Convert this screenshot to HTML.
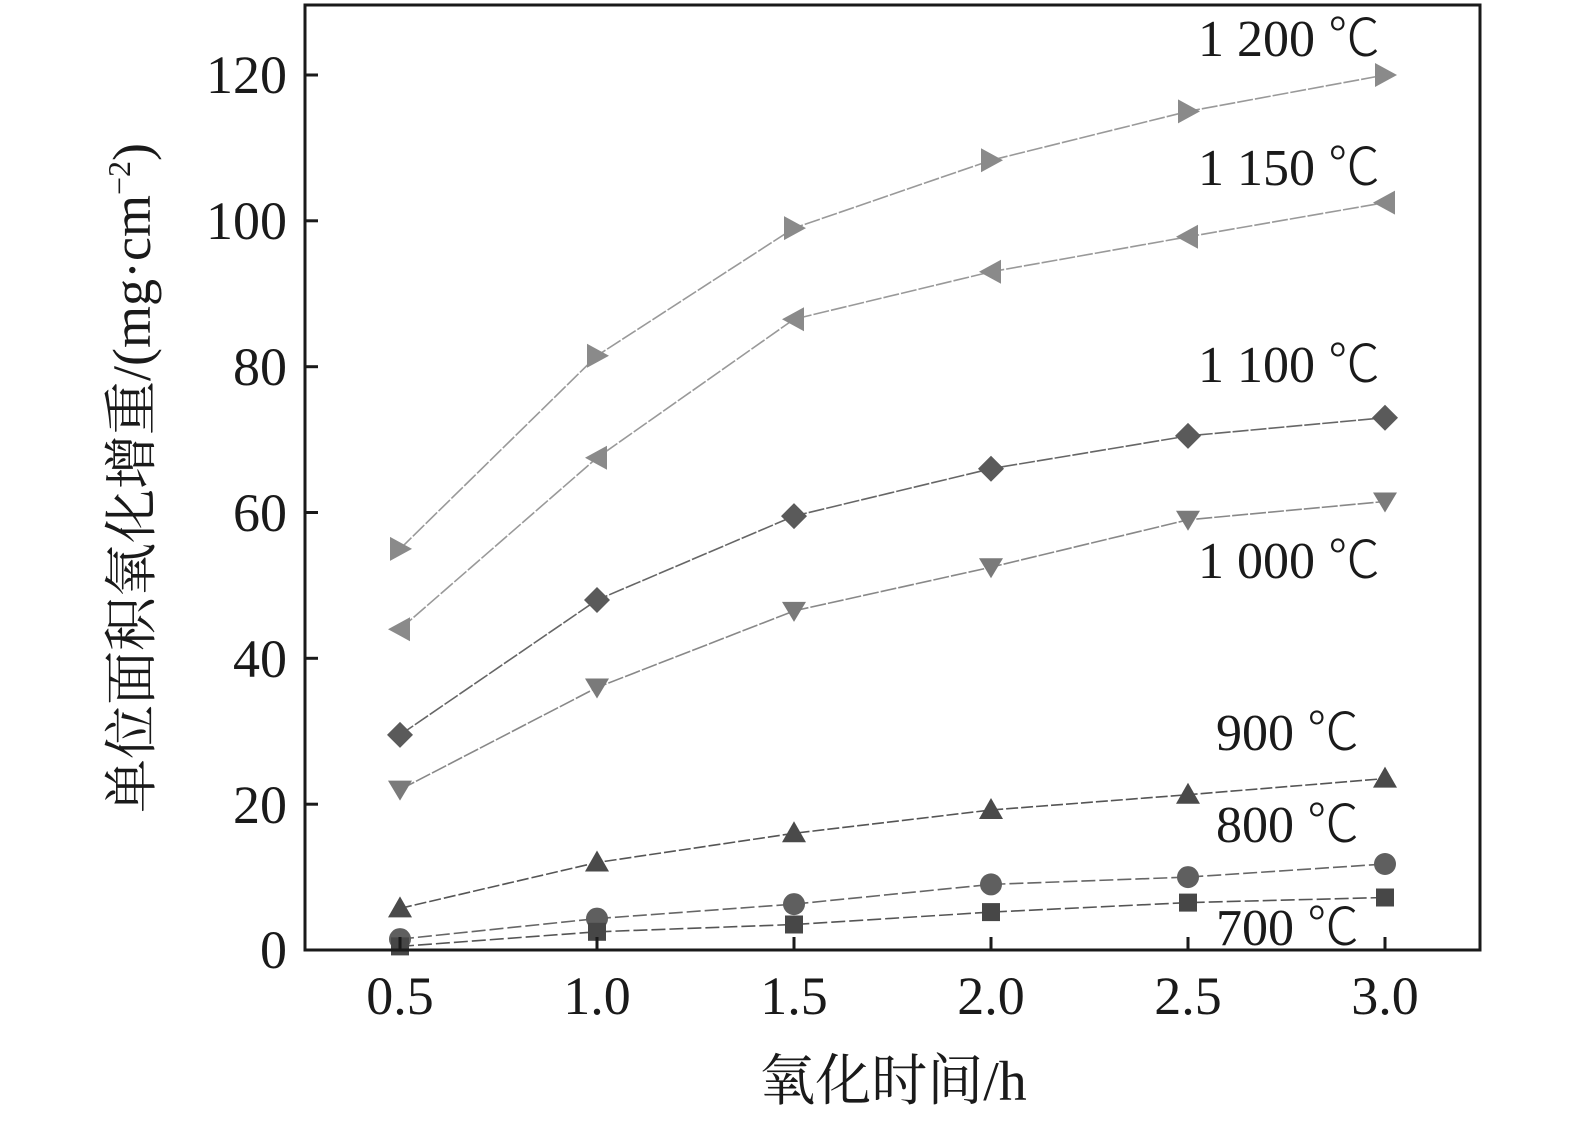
<!DOCTYPE html>
<html><head><meta charset="utf-8"><style>
html,body{margin:0;padding:0;background:#fff;}
svg{display:block;}
text{font-family:"Liberation Serif","Noto Serif CJK SC",serif;fill:#1a1a1a;}
.c{font-family:"Noto Sans CJK SC","WenQuanYi Zen Hei",sans-serif;font-weight:300;}
</style></head><body>
<svg width="1575" height="1126" viewBox="0 0 1575 1126" xmlns="http://www.w3.org/2000/svg">
<defs>
<marker id="mr" markerUnits="userSpaceOnUse" markerWidth="30" markerHeight="30" refX="15" refY="15" orient="0"><path d="M5,3 L27,15 L5,27 Z" fill="#8a8a8a"/></marker>
<marker id="ml" markerUnits="userSpaceOnUse" markerWidth="30" markerHeight="30" refX="15" refY="15" orient="0"><path d="M25,3 L3,15 L25,27 Z" fill="#8a8a8a"/></marker>
<marker id="md" markerUnits="userSpaceOnUse" markerWidth="30" markerHeight="30" refX="15" refY="15" orient="0"><path d="M15,2 L28,15 L15,28 L2,15 Z" fill="#5a5a5a"/></marker>
<marker id="mv" markerUnits="userSpaceOnUse" markerWidth="30" markerHeight="30" refX="15" refY="15" orient="0"><path d="M3,6 L27,6 L15,26 Z" fill="#7a7a7a"/></marker>
<marker id="mu" markerUnits="userSpaceOnUse" markerWidth="30" markerHeight="30" refX="15" refY="15" orient="0"><path d="M15,3 L27,24 L3,24 Z" fill="#4a4a4a"/></marker>
<marker id="mc" markerUnits="userSpaceOnUse" markerWidth="30" markerHeight="30" refX="15" refY="15" orient="0"><circle cx="15" cy="15" r="11" fill="#5f5f5f"/></marker>
<marker id="ms" markerUnits="userSpaceOnUse" markerWidth="30" markerHeight="30" refX="15" refY="15" orient="0"><rect x="6" y="6" width="18" height="18" fill="#474747"/></marker>
</defs>
<g fill="none" stroke-width="1.6">
<polyline stroke="#999" stroke-dasharray="16,2" points="400,548.9 597,355.7 794,228.1 991,160.3 1188,111.4 1385,75" marker-start="url(#mr)" marker-mid="url(#mr)" marker-end="url(#mr)"/>
<polyline stroke="#999" stroke-dasharray="16,2" points="400,629.2 597,457.8 794,319.2 991,271.8 1188,236.8 1385,202.6" marker-start="url(#ml)" marker-mid="url(#ml)" marker-end="url(#ml)"/>
<polyline stroke="#666" stroke-dasharray="16,2" points="400,734.9 597,600 794,516.1 991,468.7 1188,435.9 1385,417.7" marker-start="url(#md)" marker-mid="url(#md)" marker-end="url(#md)"/>
<polyline stroke="#888" stroke-dasharray="16,2" points="400,789.6 597,687.5 794,610.9 991,567.2 1188,519.8 1385,501.5" marker-start="url(#mv)" marker-mid="url(#mv)" marker-end="url(#mv)"/>
<polyline stroke="#555" stroke-dasharray="12,3" points="400,908.4 597,862.5 794,833.3 991,810 1188,794.7 1385,778.6" marker-start="url(#mu)" marker-mid="url(#mu)" marker-end="url(#mu)"/>
<polyline stroke="#666" stroke-dasharray="14,4" points="400,939.1 597,918.6 794,904.1 991,884.4 1188,877.1 1385,864" marker-start="url(#mc)" marker-mid="url(#mc)" marker-end="url(#mc)"/>
<polyline stroke="#555" stroke-dasharray="14,4" points="400,946.4 597,931.8 794,924.5 991,912.1 1188,902.6 1385,897.5" marker-start="url(#ms)" marker-mid="url(#ms)" marker-end="url(#ms)"/>
</g>
<rect x="305" y="5" width="1175" height="945" fill="none" stroke="#1a1a1a" stroke-width="3"/>
<g stroke="#1a1a1a" stroke-width="3">
<line x1="305" y1="75" x2="318" y2="75"/><line x1="305" y1="220.8" x2="318" y2="220.8"/><line x1="305" y1="366.7" x2="318" y2="366.7"/><line x1="305" y1="512.5" x2="318" y2="512.5"/><line x1="305" y1="658.3" x2="318" y2="658.3"/><line x1="305" y1="804.2" x2="318" y2="804.2"/>
<line x1="400" y1="950" x2="400" y2="937"/><line x1="597" y1="950" x2="597" y2="937"/><line x1="794" y1="950" x2="794" y2="937"/><line x1="991" y1="950" x2="991" y2="937"/><line x1="1188" y1="950" x2="1188" y2="937"/><line x1="1385" y1="950" x2="1385" y2="937"/>
</g>
<g font-size="54" text-anchor="end">
<text x="287" y="93">120</text><text x="287" y="239">100</text><text x="287" y="385">80</text><text x="287" y="531">60</text><text x="287" y="677">40</text><text x="287" y="823">20</text><text x="287" y="968">0</text>
</g>
<g font-size="54" text-anchor="middle">
<text x="400" y="1014">0.5</text><text x="597" y="1014">1.0</text><text x="794" y="1014">1.5</text><text x="991" y="1014">2.0</text><text x="1188" y="1014">2.5</text><text x="1385" y="1014">3.0</text>
</g>
<text x="893" y="1100" font-size="56" text-anchor="middle">氧化时间/h</text>
<text transform="translate(150,478) rotate(-90)" font-size="54" text-anchor="middle">单位面积氧化增重/(mg·cm<tspan font-size="32" dy="-20">−2</tspan><tspan dy="20">)</tspan></text>
<g font-size="52">
<text x="1198" y="56">1 200 <tspan class="c">℃</tspan></text>
<text x="1198" y="185">1 150 <tspan class="c">℃</tspan></text>
<text x="1198" y="382">1 100 <tspan class="c">℃</tspan></text>
<text x="1198" y="578">1 000 <tspan class="c">℃</tspan></text>
<text x="1216" y="750">900 <tspan class="c">℃</tspan></text>
<text x="1216" y="842">800 <tspan class="c">℃</tspan></text>
<text x="1216" y="945">700 <tspan class="c">℃</tspan></text>
</g>
</svg>
</body></html>
